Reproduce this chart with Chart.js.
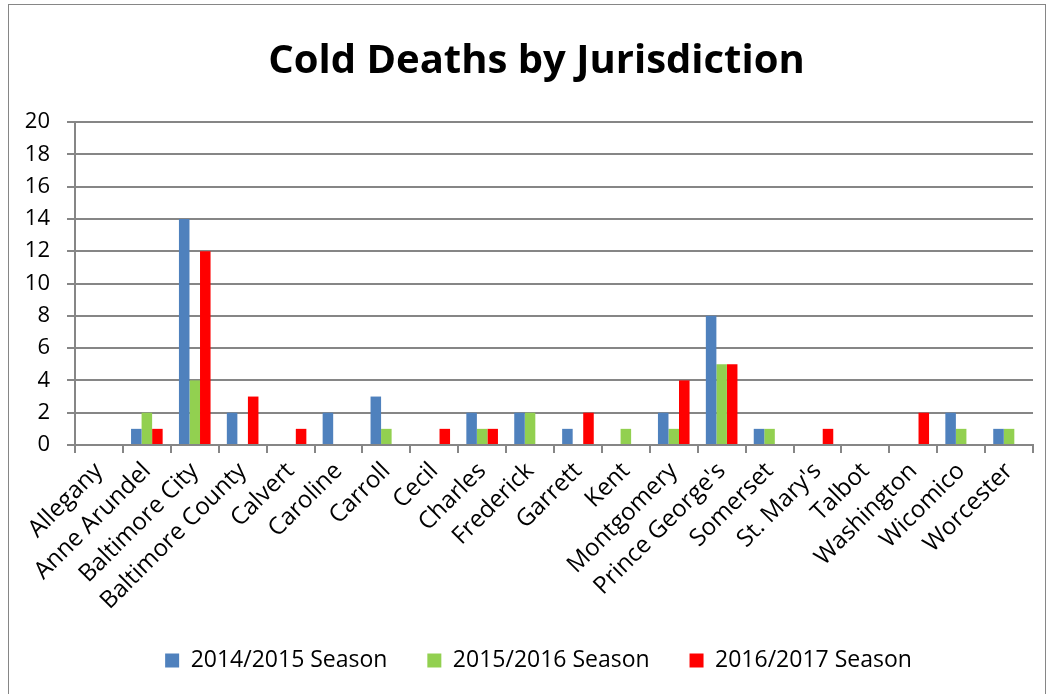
<!DOCTYPE html>
<html>
<head>
<meta charset="utf-8">
<script src="https://cdn.jsdelivr.net/npm/chart.js@4"></script>
<style>
  html, body { margin: 0; padding: 0; background: #fff; }
  #frame {
    position: absolute; left: 8px; top: 4px; width: 1038px; height: 700px;
    border: 1px solid #868686; box-sizing: border-box;
  }
  #wrap { position: absolute; left: 0; top: 0; width: 1051px; height: 694px; }
</style>
</head>
<body>
<div id="frame"></div>
<div id="wrap"><canvas id="grafica"></canvas></div>
<script>
const categories = [
  'Allegany', 'Anne Arundel', 'Baltimore City', 'Baltimore County', 'Calvert',
  'Caroline', 'Carroll', 'Cecil', 'Charles', 'Frederick', 'Garrett', 'Kent',
  'Montgomery', "Prince George's", 'Somerset', "St. Mary's", 'Talbot',
  'Washington', 'Wicomico', 'Worcester'
];
const season1415 = [0, 1, 14, 2, 0, 2, 3, 0, 2, 2, 1, 0, 2, 8, 1, 0, 0, 0, 2, 1];
const season1516 = [0, 2, 4, 0, 0, 0, 1, 0, 1, 2, 0, 1, 1, 5, 1, 0, 0, 0, 1, 1];
const season1617 = [0, 1, 12, 3, 1, 0, 0, 1, 1, 0, 2, 0, 4, 5, 0, 1, 0, 2, 0, 0];
const seriesNames = ['2014/2015 Season', '2015/2016 Season', '2016/2017 Season'];

const fontFamily = "'Open Sans', 'Noto Sans', sans-serif";
const gridColor = '#868686';

// nudge title and legend a bit right, like the original
const shiftBoxes = {
  id: 'shiftBoxes',
  afterLayout(chart) {
    chart.legend.left += 22;
    chart.legend.right += 22;
    if (chart.titleBlock) {
      chart.titleBlock.left += 20;
      chart.titleBlock.right += 20;
    }
  }
};

document.addEventListener("DOMContentLoaded", () => {
  const ctx = document.getElementById('grafica').getContext('2d');
  new Chart(ctx, {
    type: 'bar',
    data: {
      labels: categories,
      datasets: [
        { label: seriesNames[0], data: season1415, backgroundColor: '#4F81BD' },
        { label: seriesNames[1], data: season1516, backgroundColor: '#92D050' },
        { label: seriesNames[2], data: season1617, backgroundColor: '#FF0000' }
      ]
    },
    plugins: [shiftBoxes],
    options: {
      responsive: true,
      maintainAspectRatio: false,
      animation: false,
      layout: { padding: { left: 0, right: 18, top: 38, bottom: 12 } },
      datasets: { bar: { categoryPercentage: 0.66, barPercentage: 1.0 } },
      plugins: {
        title: {
          display: true,
          text: 'Cold Deaths by Jurisdiction',
          color: '#000',
          font: { family: fontFamily, size: 40, weight: 'bold' },
          padding: { top: 0, bottom: 36 }
        },
        legend: {
          position: 'bottom',
          labels: {
            color: '#000',
            font: { family: fontFamily, size: 23 },
            boxWidth: 14, boxHeight: 14, padding: 10,
            generateLabels: (chart) => {
              const items = Chart.defaults.plugins.legend.labels.generateLabels(chart);
              items.forEach((it, i) => {
                if (i < items.length - 1) it.text = it.text + '     ';
              });
              return items;
            }
          }
        },
        tooltip: { enabled: false }
      },
      scales: {
        x: {
          afterFit: (scale) => { scale.height = 194; },
          grid: { display: true, drawOnChartArea: false, drawTicks: true, tickLength: 8, color: gridColor, lineWidth: 2 },
          border: { color: gridColor, width: 2 },
          ticks: {
            color: '#000', maxRotation: 45, minRotation: 45, autoSkip: false,
            font: { family: fontFamily, size: 24 }, padding: 4
          }
        },
        y: {
          min: 0, max: 20,
          afterFit: (scale) => { scale.width = 75; },
          grid: { color: gridColor, lineWidth: 2, tickLength: 8 },
          border: { color: gridColor, width: 2 },
          ticks: {
            stepSize: 2, color: '#000',
            font: { family: fontFamily, size: 22 }, padding: 17
          }
        }
      }
    }
  });
});
</script>
</body>
</html>
